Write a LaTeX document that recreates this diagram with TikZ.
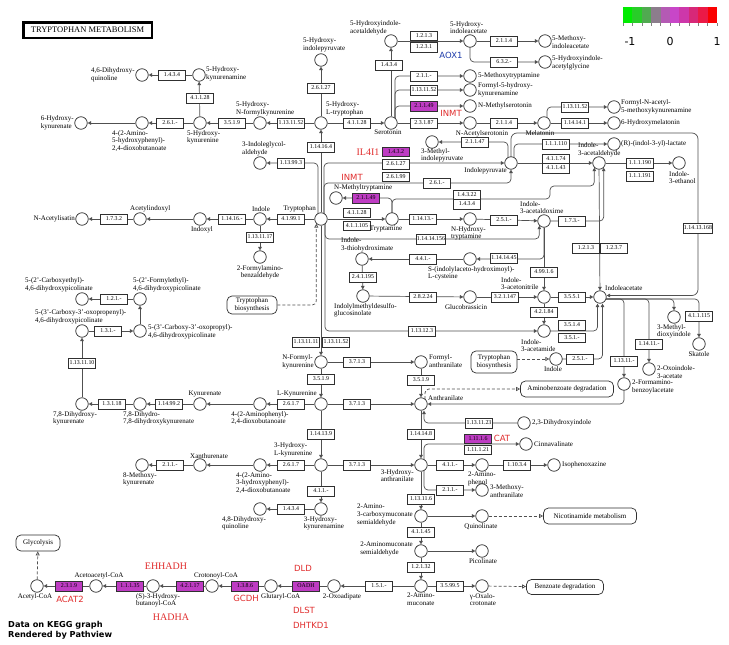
\documentclass[tikz,border=0pt]{standalone}
\usepackage{fontspec}
\setmainfont{Liberation Serif}
\newfontfamily\djs{DejaVu Sans}
\usetikzlibrary{arrows.meta,calc}
\pgfdeclarelayer{bg}
\pgfsetlayers{bg,main}
\definecolor{lc}{HTML}{505050}
\definecolor{bc}{HTML}{303030}
\definecolor{hitc}{RGB}{190,60,195}
\definecolor{redc}{RGB}{225,45,45}
\definecolor{bluec}{RGB}{30,60,170}
\definecolor{lg1}{RGB}{0,235,0}
\definecolor{lg2}{RGB}{40,205,40}
\definecolor{lg3}{RGB}{80,170,80}
\definecolor{lg4}{RGB}{140,125,140}
\definecolor{lg5}{RGB}{180,90,180}
\definecolor{lg6}{RGB}{200,70,200}
\definecolor{lg7}{RGB}{205,55,170}
\definecolor{lg8}{RGB}{215,40,120}
\definecolor{lg9}{RGB}{235,25,70}
\definecolor{lg10}{RGB}{250,0,0}
\tikzset{
 cpd/.style={circle,draw=bc,fill=white,minimum size=12.5pt,inner sep=0pt,line width=0.75pt},
 enz/.style={rectangle,draw=bc,fill=white,minimum width=27pt,minimum height=9.5pt,inner sep=0.6pt,line width=0.5pt,font=\fontsize{5.9}{6.2}\selectfont},
 hit/.style={enz,fill=hitc},
 lbl/.style={inner sep=0pt,align=left,font=\fontsize{7}{7.6}\selectfont},
 gname/.style={inner sep=0pt,font=\djs\fontsize{8.5}{9}\selectfont,text=redc},
 gserif/.style={inner sep=0pt,font=\fontsize{10}{11}\selectfont,text=redc},
 mapbox/.style={draw=bc,rounded corners=5pt,line width=0.7pt,fill=white,align=center,inner sep=1pt,font=\fontsize{7}{7.6}\selectfont},
 ln/.style={draw=lc,line width=0.7pt},
 arr/.style={ln,-{Triangle[length=3.5pt,width=3.6pt]}},
 dsh/.style={ln,dash pattern=on 3pt off 2pt,-{Triangle[open,length=4pt,width=4pt]}},
 rc/.style={rounded corners=4pt},
}
\newcommand\mkC[3]{\node[cpd] (#1) at (#2,#3) {};}
\newcommand\mkE[4]{\node[enz] (#1) at (#2,#3) {#4};}
\newcommand\mkH[4]{\node[hit] (#1) at (#2,#3) {#4};}
\newcommand\mkL[4]{\node[lbl,anchor=#2] (#1) at (#3) {#4};}
\begin{document}
\begin{tikzpicture}[x=1pt,y=-1pt]
\useasboundingbox (0,0) rectangle (729,645);
\begin{pgfonlayer}{bg}
\fill[white] (0,0) rectangle (729,645);
\end{pgfonlayer}
% title
\node[draw=black,line width=1.3pt,minimum width=129pt,minimum height=16pt,inner sep=0pt,font=\fontsize{8.5}{9}\selectfont] (title) at (87.5,30) {TRYPTOPHAN METABOLISM};
% legend
\foreach \i/\c in {0/lg1,1/lg2,2/lg3,3/lg4,4/lg5,5/lg6,6/lg7,7/lg8,8/lg9,9/lg10}{
 \fill[\c] (623+\i*9.4,7) rectangle ++(9.4,16);
 \draw[gray,line width=0.4pt] (623+\i*9.4,23) -- ++(0,3);
}
\draw[gray,line width=0.4pt] (717,23) -- ++(0,3);
\node[inner sep=0pt,font=\djs\fontsize{11}{12}\selectfont] (lgm) at (630,41) {-1};
\node[inner sep=0pt,font=\djs\fontsize{11}{12}\selectfont] (lgz) at (670,41) {0};
\node[inner sep=0pt,font=\djs\fontsize{11}{12}\selectfont] (lgp) at (717,41) {1};
% credits
\node[anchor=west,inner sep=0pt,align=left,font=\djs\bfseries\fontsize{8.2}{10}\selectfont] (credit) at (8,630) {Data on KEGG graph\\Rendered by Pathview};

% ---------- compounds
\mkC{c46dhq}{142}{75}
\mkC{c5hkyam}{199}{75}
\mkC{c6hk}{81}{123}
\mkC{c4a5h}{142}{123}
\mkC{c5hky}{200}{123}
\mkC{c5hnf}{260}{123}
\mkC{c5htp}{321}{123}
\mkC{c5hip}{321}{60}
\mkC{c5hial}{391}{41}
\mkC{c5hiaa}{470}{41}
\mkC{c5miaa}{545}{41}
\mkC{c5hiag}{545}{62}
\mkC{cser}{391}{123}
\mkC{c5mt}{470}{76}
\mkC{cf5hk}{470}{90}
\mkC{cnms}{470}{106}
\mkC{cnas}{470}{123}
\mkC{cmel}{544}{123}
\mkC{cfnam}{614}{107}
\mkC{c6hm}{614}{123}
\mkC{c3mip}{432}{142}
\mkC{cipy}{511}{163}
\mkC{cilac}{614}{144}
\mkC{ciald}{599}{163}
\mkC{ciet}{679}{163}
\mkC{cnmt}{336}{198}
\mkC{ctrp}{321}{219}
\mkC{ctam}{392}{219}
\mkC{cnht}{470}{219}
\mkC{ciaox}{544}{221}
\mkC{cind}{260}{219}
\mkC{cindx}{200}{219}
\mkC{cacind}{140}{219}
\mkC{cnai}{82}{219}
\mkC{c2fab}{260}{257}
\mkC{c3igl}{260}{163}
\mkC{cith}{362}{259}
\mkC{csil}{470}{259}
\mkC{cimg}{363}{296}
\mkC{cgb}{470}{297}
\mkC{cian}{544}{297}
\mkC{ciam}{544}{331}
\mkC{cindb}{556}{359}
\mkC{ciaa}{600}{297}
\mkC{c3mdi}{674}{317}
\mkC{cskat}{699}{344}
\mkC{c2oia}{649}{369}
\mkC{c2fba}{624}{384}
\mkC{cnfk}{321}{362}
\mkC{cfan}{421}{362}
\mkC{cant}{421}{404}
\mkC{c23dhi}{524}{423}
\mkC{clk}{321}{404}
\mkC{c4a2}{260}{404}
\mkC{ckyn}{200}{404}
\mkC{c78dd}{140}{404}
\mkC{c78dhk}{82}{404}
\mkC{c3c3op}{82}{331}
\mkC{c3c3o}{140}{331}
\mkC{c2ce}{82}{299}
\mkC{c2fe}{140}{299}
\mkC{c3hk}{321}{465}
\mkC{c4a3h}{260}{465}
\mkC{cxan}{200}{465}
\mkC{c8mk}{142}{465}
\mkC{c3hant}{421}{465}
\mkC{c3hkam}{321}{509}
\mkC{c48dq}{260}{509}
\mkC{c2amp}{482}{465}
\mkC{cisoph}{554}{465}
\mkC{ccin}{526}{444}
\mkC{c3ma}{482}{490}
\mkC{c2acms}{421}{516}
\mkC{cquin}{482}{516}
\mkC{c2ams}{421}{551}
\mkC{cpic}{482}{551}
\mkC{c2am}{421}{586}
\mkC{coxc}{482}{586}
\mkC{c2oxo}{334}{586}
\mkC{cglu}{271}{586}
\mkC{ccro}{212}{586}
\mkC{c3hb}{153}{586}
\mkC{caac}{96}{586}
\mkC{cacoa}{37}{586}

% ---------- enzymes
\mkE{e1}{172}{75}{1.4.3.4}
\mkE{e2}{200}{98}{4.1.1.28}
\mkE{e3}{170}{123}{2.6.1.-}
\mkE{e4}{232}{123}{3.5.1.9}
\mkE{e5}{291}{123}{1.13.11.52}
\mkE{e6}{321}{88}{2.6.1.27}
\mkE{e7}{357}{123}{4.1.1.28}
\mkE{e8}{321}{147}{1.14.16.4}
\mkE{e9}{291}{163}{1.13.99.3}
\mkE{e10}{389}{65}{1.4.3.4}
\mkE{e11a}{424}{35.5}{1.2.1.3}
\mkE{e11b}{424}{47}{1.2.3.1}
\mkE{e12}{504}{41}{2.1.1.4}
\mkE{e13}{504}{62}{6.3.2.-}
\mkE{e14}{424}{76}{2.1.1.-}
\mkE{e15}{424}{90}{1.13.11.52}
\mkH{e16}{424}{106}{2.1.1.49}
\mkE{e17}{424}{123}{2.3.1.87}
\mkE{e18}{504}{123}{2.1.1.4}
\mkE{e19}{575}{107}{1.13.11.52}
\mkE{e20}{575}{123}{1.14.14.1}
\mkE{e21}{475}{142}{2.1.1.47}
\mkH{e22a}{396}{151.5}{1.4.3.2}
\mkE{e22b}{396}{164}{2.6.1.27}
\mkE{e22c}{396}{176.5}{2.6.1.99}
\mkE{e23}{437}{183}{2.6.1.-}
\mkE{e24a}{556}{144}{1.1.1.110}
\mkE{e24b}{556}{158.5}{4.1.1.74}
\mkE{e24c}{556}{168}{4.1.1.43}
\mkE{e25a}{640}{163}{1.1.1.190}
\mkE{e25b}{640}{176}{1.1.1.191}
\mkE{e26}{698}{228}{1.14.13.168}
\mkE{e27a}{357}{212.5}{4.1.1.28}
\mkE{e27b}{357}{225.5}{4.1.1.105}
\mkH{e28}{366}{198}{2.1.1.49}
\mkE{e29a}{467}{194.5}{1.4.3.22}
\mkE{e29b}{467}{204}{1.4.3.4}
\mkE{e30}{423}{219}{1.14.13.-}
\mkE{e31}{504}{220}{2.5.1.-}
\mkE{e32}{431}{239}{1.14.14.156}
\mkE{e33}{423}{259}{4.4.1.-}
\mkE{e34}{504}{258}{1.14.14.45}
\mkE{e35}{544}{272}{4.99.1.6}
\mkE{e36}{363}{277}{2.4.1.195}
\mkE{e37}{423}{297}{2.8.2.24}
\mkE{e38}{505}{297}{3.2.1.147}
\mkE{e39}{544}{312}{4.2.1.84}
\mkE{e40}{572}{297}{3.5.5.1}
\mkE{e41a}{572}{325}{3.5.1.4}
\mkE{e41b}{572}{337.5}{3.5.1.-}
\mkE{e42}{422}{331}{1.13.12.3}
\mkE{e43}{580}{359}{2.5.1.-}
\mkE{e44a}{586}{248}{1.2.1.3}
\mkE{e44b}{614}{248}{1.2.3.7}
\mkE{e45}{572}{221}{1.7.3.-}
\mkE{e46}{624}{361}{1.13.11.-}
\mkE{e47}{649}{344}{1.14.11.-}
\mkE{e48}{699}{316}{4.1.1.115}
\mkE{e49}{291}{219}{4.1.99.1}
\mkE{e50}{232}{219}{1.14.16.-}
\mkE{e51}{114}{219}{1.7.3.2}
\mkE{e52}{260}{237}{1.13.11.17}
\mkE{e53a}{306}{342}{1.13.11.11}
\mkE{e53b}{336}{342}{1.13.11.52}
\mkE{e54}{357}{362}{3.7.1.3}
\mkE{e55}{321}{379}{3.5.1.9}
\mkE{e56}{421}{380}{3.5.1.9}
\mkE{e57}{357}{404}{3.7.1.3}
\mkE{e58}{291}{404}{2.6.1.7}
\mkE{e59}{169}{404}{1.14.99.2}
\mkE{e60}{112}{404}{1.3.1.18}
\mkE{e61}{82}{363}{1.13.11.10}
\mkE{e62}{108}{331}{1.3.1.-}
\mkE{e63}{114}{299}{1.2.1.-}
\mkE{e64}{479}{423}{1.13.11.23}
\mkE{e65}{421}{434}{1.14.14.8}
\mkH{e66a}{478}{438.5}{1.11.1.6}
\mkE{e66b}{478}{449.5}{1.11.1.21}
\mkE{e67}{321}{434}{1.14.13.9}
\mkE{e68}{357}{465}{3.7.1.3}
\mkE{e69}{291}{465}{2.6.1.7}
\mkE{e70}{170}{465}{2.1.1.-}
\mkE{e71}{321}{491}{4.1.1.-}
\mkE{e72}{291}{509}{1.4.3.4}
\mkE{e73}{450}{465}{4.1.1.-}
\mkE{e74}{517}{465}{1.10.3.4}
\mkE{e75}{450}{490}{2.1.1.-}
\mkE{e76}{421}{499}{1.13.11.6}
\mkE{e77}{421}{532}{4.1.1.45}
\mkE{e78}{421}{567}{1.2.1.32}
\mkE{e79}{379}{586}{1.5.1.-}
\mkE{e80}{450}{586}{3.5.99.5}
\mkH{e81}{306}{586}{OADH}
\mkH{e82}{245}{586}{1.3.8.6}
\mkH{e83}{190}{586}{4.2.1.17}
\mkH{e84}{130}{586}{1.1.1.35}
\mkH{e85}{69}{586}{2.3.1.9}

% ---------- map boxes
\node[mapbox,minimum width=50pt,minimum height=18pt] (m1) at (252,305) {Tryptophan\\biosynthesis};
\node[mapbox,minimum width=46pt,minimum height=22pt] (m2) at (494,362) {Tryptophan\\biosynthesis};
\node[mapbox,minimum width=93pt,minimum height=16pt] (m3) at (567,389) {Aminobenzoate degradation};
\node[mapbox,minimum width=93pt,minimum height=16pt] (m4) at (590,516) {Nicotinamide metabolism};
\node[mapbox,minimum width=77pt,minimum height=15pt] (m5) at (565,587) {Benzoate degradation};
\node[mapbox,minimum width=44pt,minimum height=16pt] (m6) at (38,543) {Glycolysis};

% ---------- labels
\mkL{l46dhq}{east}{135,75}{4,6-Dihydroxy-\\quinoline}
\mkL{l5hkyam}{west}{206,74}{5-Hydroxy-\\kynurenamine}
\mkL{l6hk}{east}{74,123}{6-Hydroxy-\\kynurenate}
\mkL{l4a5h}{north west}{112,130}{4-(2-Amino-\\5-hydroxyphenyl)-\\2,4-dioxobutanoate}
\mkL{l5hky}{north west}{187,130}{5-Hydroxy-\\kynurenine}
\mkL{l5hnf}{south west}{236,116}{5-Hydroxy-\\N-formylkynurenine}
\mkL{l5htp}{south west}{326,116}{5-Hydroxy-\\L-tryptophan}
\mkL{l5hip}{south west}{303,52}{5-Hydroxy-\\indolepyruvate}
\mkL{l5hial}{south west}{350,35}{5-Hydroxyindole-\\acetaldehyde}
\mkL{l5hiaa}{south west}{450,34}{5-Hydroxy-\\indoleacetate}
\mkL{l5miaa}{west}{552,42}{5-Methoxy-\\indoleacetate}
\mkL{l5hiag}{west}{552,63}{5-Hydroxyindole-\\acetylglycine}
\mkL{lser}{north}{388,130}{Serotonin}
\mkL{l5mt}{west}{478,76}{5-Methoxytryptamine}
\mkL{lf5hk}{west}{478,90}{Formyl-5-hydroxy-\\kynurenamine}
\mkL{lnms}{west}{478,106}{N-Methylserotonin}
\mkL{lnas}{north}{482,130}{N-Acetylserotonin}
\mkL{lmel}{north}{540,130}{Melatonin}
\mkL{lfnam}{west}{621,107}{Formyl-N-acetyl-\\5-methoxykynurenamine}
\mkL{l6hm}{west}{621,123}{6-Hydroxymelatonin}
\mkL{l3mip}{north west}{421,148}{3-Methyl-\\indolepyruvate}
\mkL{lipy}{north east}{507,167}{Indolepyruvate}
\mkL{lilac}{west}{621,144}{(R)-(indol-3-yl)-lactate}
\mkL{liald}{south west}{578,157}{Indole-\\3-acetaldehyde}
\mkL{liet}{north west}{669,171}{Indole-\\3-ethanol}
\mkL{lnmt}{south west}{334,191}{N-Methyltryptamine}
\mkL{ltrp}{south east}{316,212}{Tryptophan}
\mkL{ltam}{north}{386,226}{Tryptamine}
\mkL{lnht}{north west}{451,226}{N-Hydroxy-\\tryptamine}
\mkL{liaox}{south west}{520,214}{Indole-\\3-acetaldoxime}
\mkL{lind}{south}{261,212}{Indole}
\mkL{lindx}{north}{202,226}{Indoxyl}
\mkL{lacind}{south west}{130,212}{Acetylindoxyl}
\mkL{lnai}{east}{75,219}{N-Acetylisatin}
\node[lbl,align=center,anchor=north] (l2fab) at (260,265) {2-Formylamino-\\benzaldehyde};
\mkL{l3igl}{south west}{242,156}{3-Indoleglycol-\\aldehyde}
\mkL{lith}{south west}{341,252}{Indole-\\3-thiohydroximate}
\mkL{lsil}{north west}{428,266}{S-(indolylaceto-hydroximoyl)-\\L-cysteine}
\mkL{limg}{north west}{334,303}{Indolylmethyldesulfo-\\glucosinolate}
\mkL{lgb}{north}{466,304}{Glucobrassicin}
\mkL{lian}{south west}{501,290}{Indole-\\3-acetonitrile}
\mkL{liam}{north west}{521,339}{Indole-\\3-acetamide}
\mkL{lindb}{north}{553,366}{Indole}
\mkL{liaa}{south west}{605,291}{Indoleacetate}
\mkL{l3mdi}{north west}{657,324}{3-Methyl-\\dioxyindole}
\mkL{lskat}{north}{699,351}{Skatole}
\mkL{l2oia}{west}{657,372}{2-Oxoindole-\\3-acetate}
\mkL{l2fba}{west}{632,387}{2-Formamino-\\benzoylacetate}
\mkL{lnfk}{east}{314,362}{N-Formyl-\\kynurenine}
\mkL{lfan}{west}{429,361}{Formyl-\\anthranilate}
\mkL{lant}{south west}{428,401}{Anthranilate}
\mkL{l23dhi}{west}{532,423}{2,3-Dihydroxyindole}
\mkL{llk}{south east}{317,397}{L-Kynurenine}
\mkL{l4a2}{north}{260,411}{4-(2-Aminophenyl)-\\2,4-dioxobutanoate}
\mkL{lkyn}{south}{205,397}{Kynurenate}
\mkL{l78dd}{north west}{123,411}{7,8-Dihydro-\\7,8-dihydroxykynurenate}
\mkL{l78dhk}{north west}{53,411}{7,8-Dihydroxy-\\kynurenate}
\mkL{l3c3op}{south west}{35,324}{5-(3'-Carboxy-3'-oxopropenyl)-\\4,6-dihydroxypicolinate}
\mkL{l3c3o}{west}{148,332}{5-(3'-Carboxy-3'-oxopropyl)-\\4,6-dihydroxypicolinate}
\mkL{l2ce}{south west}{25,292}{5-(2'-Carboxyethyl)-\\4,6-dihydroxypicolinate}
\mkL{l2fe}{south west}{133,292}{5-(2'-Formylethyl)-\\4,6-dihydroxypicolinate}
\mkL{l3hk}{south west}{274,457}{3-Hydroxy-\\L-kynurenine}
\mkL{l4a3h}{north west}{236,472}{4-(2-Amino-\\3-hydroxyphenyl)-\\2,4-dioxobutanoate}
\mkL{lxan}{south west}{190,459}{Xanthurenate}
\mkL{l8mk}{north west}{123,472}{8-Methoxy-\\kynurenate}
\mkL{l3hant}{north east}{414,469}{3-Hydroxy-\\anthranilate}
\mkL{l3hkam}{north}{324,516}{3-Hydroxy-\\kynurenamine}
\mkL{l48dq}{north west}{222,516}{4,8-Dihydroxy-\\quinoline}
\mkL{l2amp}{north}{482,472}{2-Amino-\\phenol}
\mkL{lisoph}{west}{562,465}{Isophenoxazine}
\mkL{lcin}{west}{534,444}{Cinnavalinate}
\mkL{l3ma}{west}{490,491}{3-Methoxy-\\anthranilate}
\mkL{l2acms}{east}{413,515}{2-Amino-\\3-carboxymuconate\\semialdehyde}
\mkL{lquin}{north}{481,523}{Quinolinate}
\mkL{l2ams}{east}{413,549}{2-Aminomuconate\\semialdehyde}
\mkL{lpic}{north}{483,558}{Picolinate}
\mkL{l2am}{north}{421,593}{2-Amino-\\muconate}
\mkL{loxc}{north}{483,593}{γ-Oxalo-\\crotonate}
\mkL{l2oxo}{north}{342,593}{2-Oxoadipate}
\mkL{lglu}{north west}{261,593}{Glutaryl-CoA}
\mkL{lcro}{south}{216,579}{Crotonoyl-CoA}
\mkL{l3hb}{north}{158,593}{(S)-3-Hydroxy-\\butanoyl-CoA}
\mkL{laac}{south}{99,579}{Acetoacetyl-CoA}
\mkL{lacoa}{north}{35,593}{Acetyl-CoA}

% ---------- gene names
\node[gserif] (gIL) at (368,152) {IL4I1};
\node[gname] (gIN1) at (352,177) {INMT};
\node[gname] (gIN2) at (451,113) {INMT};
\node[gname,text=bluec] (gAOX) at (451,55) {AOX1};
\node[gname] (gCAT) at (502,438) {CAT};
\node[gserif] (gEH) at (166,566) {EHHADH};
\node[gserif] (gHA) at (171,617) {HADHA};
\node[gname] (gGC) at (246,598) {GCDH};
\node[gname] (gDLD) at (303,568) {DLD};
\node[gname] (gDLST) at (304,610) {DLST};
\node[gname] (gDHT) at (311,625) {DHTKD1};
\node[gname] (gAC) at (70,599) {ACAT2};

\coordinate (bigc) at (698,133);
\coordinate (k1) at (480,183);
\coordinate (k2) at (550,199);
\coordinate (k2b) at (560,186);
\coordinate (k3) at (500,239);

% ---------- connectors
\begin{pgfonlayer}{bg}
\draw[black,line width=0.4pt] ([shift={(1.8pt,1.8pt)}]title.south west) rectangle ([shift={(-1.8pt,-1.8pt)}]title.north east);
\draw[arr] (c5hkyam) -- (c46dhq);
\draw[arr] (c5hky) -- (c5hkyam);
\draw[arr] (c5hky) -- (c4a5h);
\draw[arr] (c4a5h) -- (c6hk);
\draw[arr] (c5hnf) -- (c5hky);
\draw[arr] (c5htp) -- (c5hnf);
\draw[arr] (c5htp) -- (c5hip);
\draw[arr] (c5htp) -- (cser);
\draw[arr] (ctrp) -- (c5htp);
\draw[arr,rc] ([xshift=-3pt]ctrp.center) |- (c3igl);
\draw[arr,rc] ([xshift=3pt]ctrp.center) |- (cipy);
\draw[arr,rc] ([xshift=3pt]ctrp.center) |- (k1) -| (cipy.south);
\draw[arr] (cser) -- (c5hial);
\draw[arr] (c5hial) -- (c5hiaa);
\draw[arr] (c5hiaa) -- (c5miaa);
\draw[arr,rc] (c5hiaa.center) |- (c5hiag);
\draw[arr,rc] ([xshift=4pt]cser.center) |- (c5mt);
\draw[arr,rc] ([xshift=4pt]cser.center) |- (cf5hk);
\draw[arr,rc] ([xshift=4pt]cser.center) |- (cnms);
\draw[arr] (cser) -- (cnas);
\draw[arr] (cnas) -- (cmel);
\draw[arr] (cmel) -- (c6hm);
\draw[arr,rc] ([xshift=3pt]cmel.center) |- (cfnam);
\draw[arr,rc] ([xshift=-3pt]cipy.center) |- (c3mip);
\draw[arr] (cipy) -- (ciald);
\draw[arr,rc] ([xshift=3pt]cipy.center) |- (cilac);
\draw[arr,rounded corners=6pt] (cipy.center) |- (bigc) |- ([yshift=1.5pt]ciaa.east);
\draw[arr] (ciald) -- (ciet);
\draw[arr] (ciald) -- (ciaa);
\draw[arr] (ctrp) -- (ctam);
\draw[arr] (ctrp) -- (cind);
\draw[arr] (cind) -- (cindx);
\draw[arr] (cindx) -- (cacind);
\draw[arr] (cacind) -- (cnai);
\draw[arr] (cind) -- (c2fab);
\draw[dsh,rc] (m1.east) -| (ctrp.south west);
\draw[arr,rc] (ctam.center) |- (cnmt);
\draw[arr,rc] (ctam.center) |- (k2) |- (k2b) -| (ciald.south west);
\draw[arr] (ctam) -- (cnht);
\draw[arr] (cnht) -- (ciaox);
\draw[arr,rc] ([xshift=4pt]ctrp.center) |- (k3) -| (ciaox.south west);
\draw[arr,rc] (ciaox.center) |- (csil);
\draw[arr] (csil) -- (cith);
\draw[arr] (cith) -- (cimg);
\draw[arr] (cimg) -- (cgb);
\draw[arr] (cgb) -- (cian);
\draw[arr] (ciaox) -- (cian);
\draw[arr] (cian) -- (ciam);
\draw[arr] (cian) -- (ciaa);
\draw[arr,rc] (ciam.center) -| ([xshift=-2.5pt]ciaa.south);
\draw[arr,rc] ([xshift=4pt]ctrp.center) |- (ciam);
\draw[arr,rc] (ciaox) -| (ciald.south east);
\draw[arr] (ctrp) -- (cnfk);
\draw[dsh] (m2.east |- cindb) -- (cindb);
\draw[arr,rc] (cindb.center) -| ([xshift=2.5pt]ciaa.south);
\draw[arr,rc] ([yshift=-2pt]ciaa.center) -| (cskat);
\draw[arr,rc] ([yshift=-2pt]ciaa.center) -| (c2fba);
\draw[arr,rc] ([yshift=-2pt]ciaa.center) -| (c2oia);
\draw[arr,rc] ([yshift=-2pt]ciaa.center) -| (c3mdi);
\draw[arr,rc] (c2fba.center) |- (cant);
\draw[arr] (cnfk) -- (cfan);
\draw[arr] (cfan) -- (cant);
\draw[arr] (cnfk) -- (clk);
\draw[arr] (clk) -- (cant);
\draw[dsh,rc] ([xshift=4pt]cant.center) |- (m3.west);
\draw[arr,rc] (c23dhi) -| ([xshift=3pt]cant.south);
\draw[arr] (cant) -- (c3hant);
\draw[arr] (clk) -- (c3hk);
\draw[arr] (clk) -- (c4a2);
\draw[arr] (c4a2) -- (ckyn);
\draw[arr] (ckyn) -- (c78dd);
\draw[arr] (c78dd) -- (c78dhk);
\draw[arr] (c78dhk) -- (c3c3op);
\draw[arr] (c3c3op) -- (c3c3o);
\draw[arr] (c3c3o) -- (c2fe);
\draw[arr] (c2fe) -- (c2ce);
\draw[arr] (c3hk) -- (c3hant);
\draw[arr] (c3hk) -- (c4a3h);
\draw[arr] (c4a3h) -- (cxan);
\draw[arr] (cxan) -- (c8mk);
\draw[arr] (c3hk) -- (c3hkam);
\draw[arr] (c3hkam) -- (c48dq);
\draw[arr,rc] ([xshift=3pt]c3hant.center) |- (ccin);
\draw[arr] (c3hant) -- (c2amp);
\draw[arr] (c2amp) -- (cisoph);
\draw[arr,rc] ([xshift=3pt]c3hant.center) |- (c3ma);
\draw[arr] (c3hant) -- (c2acms);
\draw[arr] (c2acms) -- (cquin);
\draw[dsh] (cquin) -- (m4);
\draw[arr] (c2acms) -- (c2ams);
\draw[arr] (c2ams) -- (cpic);
\draw[arr] (c2ams) -- (c2am);
\draw[arr] (c2am) -- (coxc);
\draw[dsh] (coxc) -- (m5);
\draw[arr] (c2am) -- (c2oxo);
\draw[arr] (c2oxo) -- (cglu);
\draw[arr] (cglu) -- (ccro);
\draw[arr] (ccro) -- (c3hb);
\draw[arr] (c3hb) -- (caac);
\draw[arr] (caac) -- (cacoa);
\draw[dsh] (cacoa) -- (m6);
\end{pgfonlayer}
\end{tikzpicture}
\end{document}
